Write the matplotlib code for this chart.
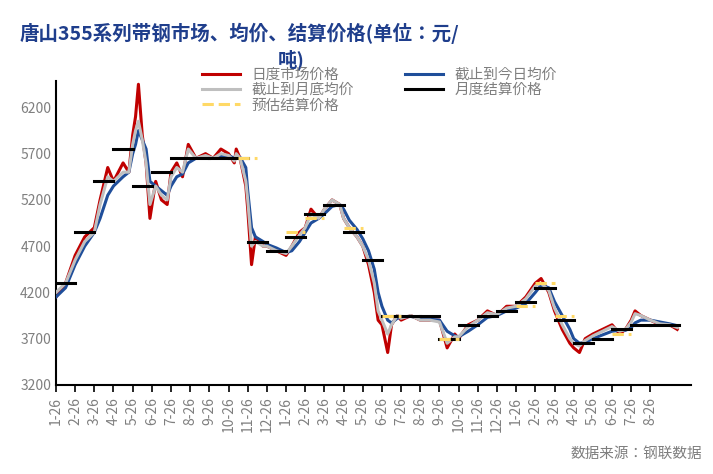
import glob

import matplotlib
matplotlib.use("Agg")
import matplotlib.pyplot as plt
from matplotlib import font_manager

cjk_family = "DejaVu Sans"
for path in sorted(glob.glob("/usr/share/fonts/**/*CJK*", recursive=True)
                   + glob.glob("/usr/share/fonts/**/*cjk*", recursive=True)):
    try:
        font_manager.fontManager.addfont(path)
        name = font_manager.FontProperties(fname=path).get_name()
        if "SC" in name or cjk_family == "DejaVu Sans":
            cjk_family = name
    except Exception:
        pass
plt.rcParams["font.family"] = [cjk_family, "Noto Sans CJK SC", "DejaVu Sans"]

# x in months since first tick (1-26 of year 1)
month_labels = [f"{m}-26" for m in list(range(1, 13)) * 2 + list(range(1, 9))]

daily_x = [0, 0.5, 1, 1.5, 2, 2.3, 2.7, 3, 3.5, 3.8, 4, 4.15, 4.3, 4.5, 4.7, 4.9,
           5.2, 5.5, 5.8, 6, 6.3, 6.6, 6.9, 7.3, 7.8, 8.2, 8.6, 9, 9.3, 9.4, 9.6,
           9.9, 10, 10.2, 10.4, 10.8, 11, 11.5, 12, 12.3, 12.7, 13, 13.3, 13.7, 14,
           14.4, 14.8, 15, 15.3, 15.7, 16, 16.3, 16.6, 16.8, 17, 17.3, 17.5, 17.8,
           18, 18.5, 19, 19.5, 20, 20.4, 20.8, 21, 21.5, 22, 22.5, 23, 23.5, 24,
           24.5, 25, 25.3, 25.7, 26, 26.4, 26.8, 27, 27.3, 27.6, 28, 28.5, 29, 29.4,
           29.7, 30, 30.2, 30.5, 31, 31.5, 32, 32.4]
daily_price = [4150, 4300, 4600, 4800, 4900, 5200, 5550, 5400, 5600, 5500, 5900, 6100,
               6450, 5900, 5600, 5000, 5400, 5200, 5150, 5500, 5600, 5450, 5800, 5650,
               5700, 5650, 5750, 5700, 5600, 5750, 5650, 5350, 5100, 4500, 4800, 4700,
               4700, 4650, 4600, 4700, 4850, 4900, 5100, 5000, 5100, 5200, 5150, 5000,
               4900, 4800, 4700, 4500, 4200, 3900, 3850, 3550, 3850, 3950, 3900, 3950,
               3900, 3900, 3900, 3600, 3750, 3700, 3850, 3900, 4000, 3950, 4050, 4050,
               4150, 4300, 4350, 4200, 4000, 3800, 3650, 3600, 3550, 3700, 3750, 3800,
               3850, 3750, 3800, 3900, 4000, 3950, 3900, 3850, 3850, 3800]
month_end_avg = [4200, 4300, 4550, 4750, 4850, 5150, 5450, 5400, 5500, 5500, 5800, 5950,
                 6050, 5850, 5600, 5150, 5350, 5250, 5200, 5450, 5550, 5500, 5750, 5650,
                 5680, 5650, 5700, 5680, 5620, 5700, 5650, 5400, 5200, 4700, 4750, 4700,
                 4700, 4650, 4620, 4700, 4820, 4900, 5050, 5000, 5100, 5200, 5150, 5000,
                 4900, 4800, 4700, 4550, 4300, 4000, 3900, 3750, 3850, 3950, 3920, 3950,
                 3900, 3900, 3880, 3650, 3720, 3720, 3830, 3900, 3980, 3960, 4030, 4050,
                 4130, 4270, 4300, 4220, 4030, 3850, 3700, 3650, 3620, 3680, 3730, 3780,
                 3830, 3780, 3800, 3880, 3970, 3950, 3900, 3860, 3850, 3820]
to_date_avg = [4150, 4250, 4500, 4700, 4850, 5000, 5250, 5350, 5450, 5500, 5700, 5800,
               5950, 5850, 5750, 5400, 5350, 5300, 5250, 5350, 5450, 5480, 5600, 5650,
               5660, 5650, 5680, 5680, 5650, 5670, 5660, 5550, 5300, 4900, 4800, 4750,
               4720, 4680, 4630, 4650, 4750, 4850, 4950, 5000, 5050, 5130, 5150, 5100,
               4980, 4880, 4780, 4650, 4450, 4200, 4050, 3900, 3870, 3920, 3930, 3940,
               3920, 3910, 3900, 3780, 3730, 3720, 3780, 3850, 3930, 3950, 4000, 4030,
               4080, 4200, 4280, 4250, 4100, 3950, 3800, 3700, 3650, 3660, 3700, 3740,
               3780, 3790, 3790, 3820, 3870, 3900, 3900, 3880, 3860, 3840]

settle_start = list(range(0, 33))
settle_price = [4300, 4850, 5400, 5750, 5350, 5500, 5650, 5650, 5650, 5650, 4750, 4650,
                4800, 5050, 5150, 4850, 4550, 3950, 3950, 3950, 3700, 3850, 3950, 4000,
                4100, 4250, 3900, 3650, 3700, 3800, 3850, 3850, 3850]
est_start = [9.5, 12, 13, 15, 17, 20, 24, 25, 26, 29]
est_price = [5650, 4850, 5000, 4900, 3950, 3700, 4050, 4300, 3950, 3750]

fig = plt.figure(figsize=(7.13, 4.74), dpi=100)
ax = fig.add_axes([0.0785, 0.188, 0.89, 0.642])

ax.plot(daily_x, daily_price, color="#C00000", lw=2.2, label="日度市场价格", zorder=2)
ax.plot(daily_x, to_date_avg, color="#1F4E9A", lw=2.2, label="截止到今日均价", zorder=3)
ax.plot(daily_x, month_end_avg, color="#BFBFBF", lw=2.2, label="截止到月底均价", zorder=4)
for i, (s, p) in enumerate(zip(settle_start, settle_price)):
    ax.plot([s, min(s + 1, 32.5)], [p, p], color="black", lw=2.2, zorder=5,
            label="月度结算价格" if i == 0 else None)
for i, (s, p) in enumerate(zip(est_start, est_price)):
    ax.plot([s, s + 1], [p, p], color="#FFD966", lw=2.2, ls="--", zorder=6,
            label="预估结算价格" if i == 0 else None)

ax.set_xlim(0, 32.05 * 634 / 614)
ax.set_ylim(3200, 6490)
ax.set_yticks(range(3200, 6201, 500))
ax.set_xticks(range(len(month_labels)))
ax.set_xticklabels(month_labels, rotation=90, fontsize=10, color="#7F7F7F")
ax.tick_params(axis="y", labelsize=10, labelcolor="#7F7F7F", length=0)
ax.tick_params(axis="x", direction="out", length=5, width=1.2)
for side in ("top", "right"):
    ax.spines[side].set_visible(False)
for side in ("left", "bottom"):
    ax.spines[side].set_linewidth(1.5)

handles, labels = ax.get_legend_handles_labels()
order = [0, 2, 4, 1, 3]
fig.legend([handles[i] for i in order], [labels[i] for i in order], ncol=2,
           loc="upper left", bbox_to_anchor=(0.265, 0.885), frameon=False,
           fontsize=10.5, labelcolor="#7F7F7F", handlelength=2.6,
           columnspacing=3.5, labelspacing=0.1)

fig.text(0.028, 0.93, "唐山355系列带钢市场、均价、结算价格(单位：元/", fontsize=14,
         fontweight="bold", color="#1F3E8C", va="center")
fig.text(0.39, 0.875, "吨)", fontsize=14, fontweight="bold", color="#1F3E8C", va="center")
fig.text(0.985, 0.035, "数据来源：钢联数据", fontsize=10.5, color="#7F7F7F", ha="right")

fig.savefig("out.png", dpi=100)
